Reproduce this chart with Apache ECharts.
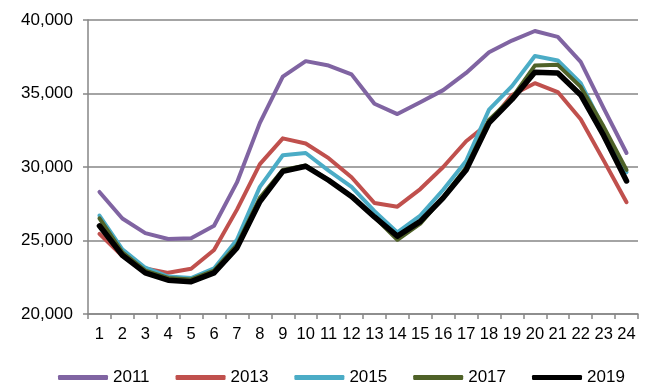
<!DOCTYPE html>
<html>
<head>
<meta charset="utf-8">
<script src="https://cdn.jsdelivr.net/npm/echarts@6/dist/echarts.min.js"></script>
<style>html,body{margin:0;padding:0;background:#fff;}#c{width:650px;height:385px;}</style>
</head>
<body>
<div id="c"></div>
<script>
var hours = ['1','2','3','4','5','6','7','8','9','10','11','12','13','14','15','16','17','18','19','20','21','22','23','24'];
var y2011 = [28300,26500,25500,25100,25150,26000,28950,33000,36150,37200,36900,36300,34300,33600,34400,35230,36400,37800,38600,39250,38850,37150,34000,30950];
var y2013 = [25450,23950,23100,22800,23080,24350,27100,30200,31950,31600,30600,29300,27550,27300,28500,30000,31750,33000,34900,35700,35100,33250,30450,27600];
var y2015 = [26700,24400,23150,22550,22450,23100,25050,28650,30800,30950,29750,28650,27000,25550,26700,28450,30400,33900,35500,37550,37250,35700,32650,29650];
var y2017 = [26500,24200,22950,22450,22350,22950,24700,27900,29800,30100,29100,28000,26600,25050,26150,27950,29950,33200,34700,36900,36950,35450,32750,29800];
var y2019 = [26000,24000,22800,22300,22200,22800,24500,27650,29700,30050,29100,28000,26600,25300,26300,27900,29800,33000,34600,36450,36400,34900,32150,29050];
var names = ['2011','2013','2015','2017','2019'];
var colors = ['#8064A2','#C0504D','#4BACC6','#4F6228','#000000'];
var widths = [4,4,4,4,5.5];
var all = [y2011,y2013,y2015,y2017,y2019];

var series = names.map(function(n,i){
  return {
    name: n, type: 'line', data: all[i], symbol: 'none', smooth: false,
    lineStyle: {color: colors[i], width: widths[i], cap: 'round', join: 'round'},
    itemStyle: {color: colors[i]}, z: 2 + i
  };
});

var chart = echarts.init(document.getElementById('c'), null, {renderer: 'canvas'});
chart.setOption({
  animation: false,
  backgroundColor: '#ffffff',
  textStyle: {fontFamily: 'Liberation Sans, Arial, sans-serif'},
  grid: {left: 88, right: 12, top: 20, bottom: 71, containLabel: false},
  legend: {
    data: names.map(function(n,i){return {name: n, icon: 'roundRect'};}),
    left: 53, top: 364, itemWidth: 50, itemHeight: 5, itemGap: 26,
    textStyle: {fontSize: 17, color: '#000'},
    selectedMode: false
  },
  xAxis: {
    type: 'category', data: hours, boundaryGap: true,
    axisLine: {lineStyle: {color: '#868686', width: 1.5}},
    axisTick: {show: true, alignWithLabel: false, length: 5, lineStyle: {color: '#868686', width: 1.5}},
    axisLabel: {color: '#000', fontSize: 16.5, margin: 12, interval: 0}
  },
  yAxis: {
    type: 'value', min: 20000, max: 40000, interval: 5000,
    axisLine: {show: true, lineStyle: {color: '#868686', width: 1.5}},
    axisTick: {show: true, length: 5, lineStyle: {color: '#868686', width: 1.5}},
    splitLine: {show: true, lineStyle: {color: '#868686', width: 1.5}},
    axisLabel: {color: '#000', fontSize: 17, margin: 15,
      formatter: function(v){ return v.toString().replace(/\B(?=(\d{3})+(?!\d))/g, ','); }}
  },
  series: series
});
</script>
</body>
</html>
